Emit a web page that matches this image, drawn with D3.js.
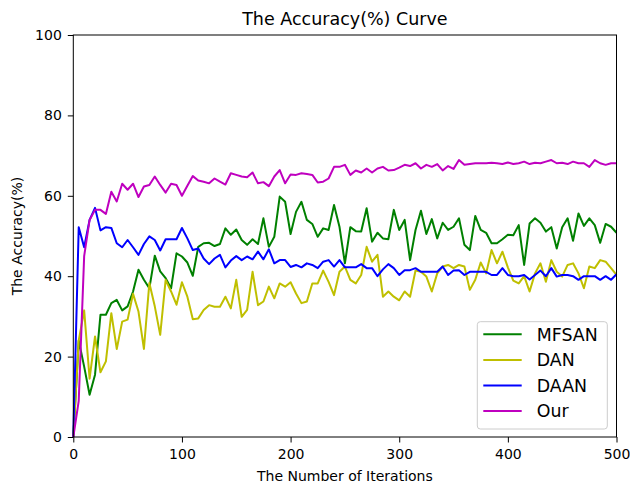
<!DOCTYPE html>
<html>
<head>
<meta charset="utf-8">
<script src="https://cdn.jsdelivr.net/npm/d3@7"></script>
<style>
	body { margin:0; background:#fff; }
	text { font-family:"DejaVu Sans", sans-serif; fill:#000; }
</style>
</head>
<body>
<div id="chart"></div>
<script>
// sampled every 5 iterations
var iterations = d3.range(0, 505, 5);

var seriesNames = ["MFSAN", "DAN", "DAAN", "Our"];
var seriesColors = ["#008000", "#bfbf00", "#0000ff", "#bf00bf"];

var mfsan = [0, 24, 17.5, 10.5, 15.5, 30.4, 30.4, 33.3, 34.1, 31.5, 32.5, 36.2, 41.6, 39.1, 37, 45.1, 41.2, 39.5, 37, 45.7, 44.9,
	43.4, 40.1, 47.3, 48.2, 48.3, 47.5, 48, 51.9, 50.3, 51.6, 49, 47.8, 49.2, 48, 54.4, 47.3, 49.8, 59.8, 58.5, 50.5,
	56, 58.5, 54, 53, 49.8, 51.9, 51.5, 57.7, 52.3, 43.2, 52.2, 51.2, 51.1, 56.9, 48.6, 50.8, 49.4, 49.2, 56.5, 51.5,
	54, 44, 51.5, 56.3, 50.5, 54.2, 49.4, 53.3, 51.5, 52.3, 54.4, 47.8, 46.5, 55, 51.5, 50.8, 48.2, 48.2, 49.2, 50.3,
	50.2, 52.7, 42.8, 53.1, 54.4, 53.3, 51.1, 52.2, 46.9, 52.2, 54.4, 48.8, 55.6, 52.5, 54.4, 52.7, 48.3, 53, 52.3, 50.8];

var dan = [0, 24, 31.5, 14.5, 25, 16.1, 18.8, 30.8, 21.9, 28.7, 29.2, 35.6, 31.2, 21.9, 38.3, 32.5, 25.4, 39.1, 36.2, 32.9, 38.5,
	34.9, 29.3, 29.5, 31.6, 32.8, 32.4, 32.4, 34.9, 32, 39.1, 29.9, 31.6, 41.1, 32.8, 33.7, 37.4, 34.5, 38.2, 37.4, 38.5,
	35.7, 33.3, 33.7, 38.2, 38.2, 41.4, 38.6, 35.3, 41.1, 42.4, 39.1, 38.2, 40.3, 47.3, 43.6, 45.3, 34.9, 36.2, 34.9, 34,
	36.2, 34.9, 41.4, 41.1, 39.9, 36.2, 40.7, 42.4, 42.8, 42, 42.8, 42.4, 36.6, 39.1, 43.4, 40.7, 46.5, 43.2, 46.1, 42.2,
	38.9, 38.2, 40, 36.2, 40.7, 43.2, 38.6, 44, 41.1, 39.9, 42.8, 43.2, 40.7, 37, 42.4, 42, 44, 43.6, 42, 40.3];

var daan = [0, 52.2, 47.2, 54, 57, 51.4, 52.2, 52, 48.2, 47.2, 49, 47.2, 45.3, 48, 49.9, 49, 46.4, 49.2, 49.2, 49.2, 52,
	49.4, 46.5, 46.9, 44.4, 43, 44.4, 45.3, 42.2, 43.9, 45, 44, 44.9, 44.2, 46.1, 44.2, 46.7, 43.2, 44, 44, 42.3,
	42.8, 42.2, 43.2, 42.8, 42, 43.6, 44, 42.4, 44, 42.2, 42.2, 42.2, 43, 42, 42, 40, 41.7, 43, 42, 40.3,
	41.5, 41.5, 42, 41.1, 41.1, 41.1, 41.1, 42.4, 40.3, 41.4, 41.5, 40.3, 41.1, 41.1, 41.1, 41.1, 40.3, 40.3, 42, 40.3,
	40, 40, 40.3, 39.2, 40.3, 41.4, 40, 42, 39.9, 40.3, 40.3, 40, 39.1, 40, 40, 40, 39.1, 40, 39.1, 40.5];

var our = [0, 9, 45, 54, 56.5, 56.5, 55.5, 61, 58.6, 63, 61.5, 63, 59.7, 62.3, 62.7, 64.8, 62.7, 60.8, 63, 62.7, 60,
	62.5, 64.9, 63.8, 63.5, 63.1, 64.3, 63.5, 62.8, 65.6, 65.2, 64.8, 64.6, 65.8, 63.1, 63.4, 62.4, 64.8, 66.4, 63.1, 65.3,
	65.2, 65.6, 65.4, 65.2, 63.3, 63.5, 64.3, 67.2, 67.2, 67.7, 65.2, 66.3, 65.8, 66.8, 65.8, 66.8, 67.2, 66.3, 66.4, 67,
	67.7, 67.4, 68.1, 66.8, 67.7, 67.2, 67.9, 66.3, 67.4, 66.7, 68.9, 67.7, 67.9, 68.1, 68.1, 68.1, 68.2, 68.1, 67.9, 68.3,
	67.9, 68.1, 68.5, 67.9, 68.2, 68.1, 68.5, 68.9, 68.1, 68.2, 67.9, 68.5, 68.1, 68.1, 67.2, 68.9, 68.1, 67.7, 68.1, 68.1];

var xTicks = [0, 100, 200, 300, 400, 500];
var yTicks = [0, 20, 40, 60, 80, 100];

var W = 630, H = 486;
var margin = {top:35, right:13.5, bottom:49, left:73.3};
var iw = W - margin.left - margin.right;
var ih = H - margin.top - margin.bottom;

var svg = d3.select("#chart").append("svg")
				.attr("width", W)
				.attr("height", H);

var g = svg.append("g").attr("transform", "translate(" + margin.left + "," + margin.top + ")");

var x = d3.scaleLinear().domain([0, 500]).range([0, iw]);
var y = d3.scaleLinear().domain([0, 100]).range([ih, 0]);

var allSeries = [mfsan, dan, daan, our];

var line = d3.line()
			.x(function(d,i){ return x(iterations[i]); })
			.y(function(d){ return y(d); });

g.selectAll(".curve").data(allSeries).enter().append("path")
				.attr("class","curve")
				.attr("d", line)
				.attr("fill","none")
				.attr("stroke", function(d,i){ return seriesColors[i]; })
				.attr("stroke-width", 2)
				.attr("stroke-linejoin","round");

// axes
var xAxis = g.append("g")
			.attr("transform","translate(0," + ih + ")")
			.call(d3.axisBottom(x).tickValues(xTicks).tickSize(5.5).tickPadding(7).tickSizeOuter(0));
var yAxis = g.append("g")
			.call(d3.axisLeft(y).tickValues(yTicks).tickSize(5.5).tickPadding(6).tickSizeOuter(0));

[xAxis, yAxis].forEach(function(a){
	a.select(".domain").remove();
	a.selectAll("line").attr("stroke","#000").attr("stroke-width",1);
	a.selectAll("text").attr("font-size", 14).attr("font-family","DejaVu Sans").attr("fill","#222");
});

g.append("rect")
	.attr("x",0).attr("y",0)
	.attr("width", iw).attr("height", ih)
	.attr("fill","none")
	.attr("stroke","#000")
	.attr("stroke-width",1);

// title and labels
svg.append("text")
	.attr("x", margin.left + iw/2)
	.attr("y", 25)
	.attr("text-anchor","middle")
	.attr("font-size", 17.5)
	.text("The Accuracy(%) Curve");

svg.append("text")
	.attr("x", margin.left + iw/2)
	.attr("y", 480.5)
	.attr("text-anchor","middle")
	.attr("font-size", 14)
	.text("The Number of Iterations");

svg.append("text")
	.attr("transform","translate(22," + (margin.top + ih/2) + ") rotate(-90)")
	.attr("text-anchor","middle")
	.attr("font-size", 14)
	.text("The Accuracy(%)");

// legend
var leg = svg.append("g").attr("transform","translate(477.3,321.7)");
leg.append("rect")
	.attr("width",130).attr("height",107.3)
	.attr("rx",3).attr("ry",3)
	.attr("fill","#fff").attr("fill-opacity",0.8)
	.attr("stroke","#cccccc").attr("stroke-width",1);

var rows = leg.selectAll(".legRow").data(seriesNames).enter().append("g")
				.attr("class","legRow")
				.attr("transform", function(d,i){ return "translate(0," + (12.6 + i*25.6) + ")"; });
rows.append("line")
	.attr("x1",6).attr("x2",44.4)
	.attr("stroke", function(d,i){ return seriesColors[i]; })
	.attr("stroke-width",2);
rows.append("text")
	.attr("x",59.4)
	.attr("dy","0.36em")
	.attr("font-size",17.4)
	.attr("fill","#222")
	.text(function(d){ return d; });
</script>
</body>
</html>
